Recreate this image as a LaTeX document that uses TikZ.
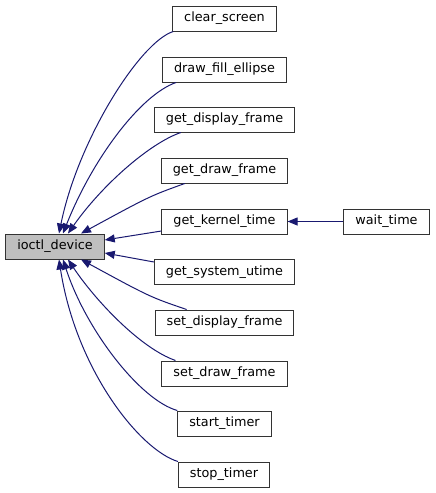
\documentclass[tikz,border=0pt]{standalone}
\usepackage{fontspec}
\setmainfont{DejaVu Sans}
\usepackage{xcolor}
\usetikzlibrary{arrows.meta}
\definecolor{edgeblue}{RGB}{25,25,112}
\definecolor{rootgray}{RGB}{191,191,191}

\begin{document}
\begin{tikzpicture}[
  x=1pt, y=-1pt,
  func/.style={rectangle, draw=black!80, line width=1pt, fill=white, inner xsep=11.5pt, minimum height=25pt, font=\fontsize{12.8}{15}\selectfont},
  root/.style={func, fill=rootgray},
  call/.style={-{Triangle[length=10pt, width=8pt]}, edgeblue, line width=1pt},
]
  \useasboundingbox (0,0) rectangle (436,493);

  \node[root] (dev) at (55,246.5) {ioctl\_device};

  \node[func] (clr) at (224.5,18.5) {clear\_screen};
  \node[func] (dfe) at (224.5,69.5) {draw\_fill\_ellipse};
  \node[func] (gdf) at (224.5,119.5) {get\_display\_frame};
  \node[func] (gdr) at (224.5,170.5) {get\_draw\_frame};
  \node[func] (gkt) at (224.5,221.5) {get\_kernel\_time};
  \node[func] (gsu) at (224.5,272) {get\_system\_utime};
  \node[func] (sdf) at (224.5,322.5) {set\_display\_frame};
  \node[func] (sdr) at (224.5,373.5) {set\_draw\_frame};
  \node[func] (stt) at (224.5,423.5) {start\_timer};
  \node[func] (stp) at (224,474.5) {stop\_timer};
  \node[func] (wt) at (386.5,221.5) {wait\_time};

  % callers above
  \draw[call] ([xshift=1pt]clr.south west) .. controls (140,42) and (78,140) .. ([xshift=4pt]dev.north);
  \draw[call] ([xshift=14pt]dfe.south west) .. controls (140,95) and (92,160) .. ([xshift=8pt]dev.north);
  \draw[call] ([xshift=27pt]gdf.south west) .. controls (150,143) and (102,185) .. ([xshift=13pt]dev.north);
  \draw[call] ([xshift=24pt]gdr.south west) .. controls (150,196) .. ([xshift=26pt]dev.north);

  % direct callers
  \draw[call] ([yshift=-9.5pt]gkt.west) -- ([yshift=6.5pt]dev.east);
  \draw[call] ([yshift=10pt]gsu.west) -- ([yshift=-6.5pt]dev.east);

  % callers below
  \draw[call] ([xshift=32pt]sdf.north west) .. controls (150,297) .. ([xshift=26pt]dev.south);
  \draw[call] ([xshift=14pt]sdr.north west) .. controls (140,348) and (95,300) .. ([xshift=13pt]dev.south);
  \draw[call] (stt.north west) .. controls (140,400) and (86,330) .. ([xshift=8pt]dev.south);
  \draw[call] (stp.north west) .. controls (140,450) and (76,370) .. ([xshift=4pt]dev.south);

  \draw[call] (wt) -- (gkt);
\end{tikzpicture}
\end{document}
